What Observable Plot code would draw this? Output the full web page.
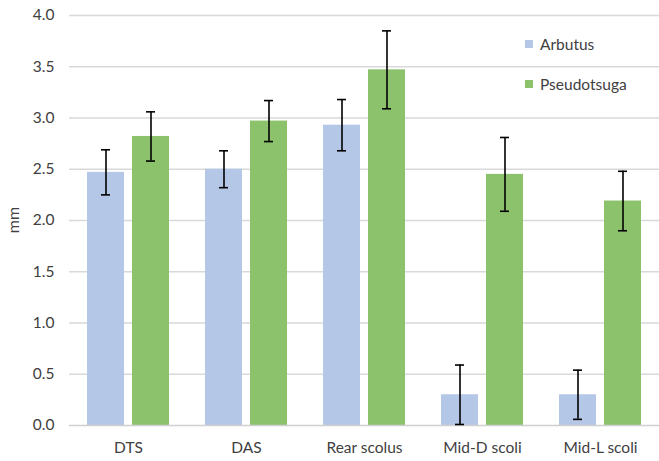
<!DOCTYPE html>
<html>
<head>
<meta charset="utf-8">
<script src="https://cdn.jsdelivr.net/npm/d3@7"></script>
<script src="https://cdn.jsdelivr.net/npm/@observablehq/plot@0.6"></script>
<style>
  html, body { margin: 0; padding: 0; background: #fff; }
  #wrap { position: relative; width: 659px; height: 461px; font-family: Lato, "Open Sans", sans-serif; }
  #legend { position: absolute; left: 525px; top: 35px; font-size: 15.5px; color: #404040; }
  #legend .item { display: flex; align-items: center; height: 18px; margin-bottom: 22px; white-space: nowrap; }
  #legend .sw { width: 8px; height: 8px; margin-right: 7px; }
  #ylabel { position: absolute; left: 12px; top: 220px; transform: translate(-50%, -50%) rotate(-90deg); font-size: 16px; color: #404040; }
</style>
</head>
<body>
<div id="wrap"><div id="legend"></div><div id="ylabel"></div></div>
<script>
const categories = ["DTS", "DAS", "Rear scolus", "Mid-D scoli", "Mid-L scoli"];
const series = ["Arbutus", "Pseudotsuga"];
const arbutusValues = [2.47, 2.50, 2.93, 0.30, 0.30];
const arbutusErrors = [0.22, 0.18, 0.25, 0.29, 0.24];
const pseudotsugaValues = [2.82, 2.97, 3.47, 2.45, 2.19];
const pseudotsugaErrors = [0.24, 0.20, 0.38, 0.36, 0.29];
const yTicks = [0, 0.5, 1, 1.5, 2, 2.5, 3, 3.5, 4];
const yLabel = "mm";
const colors = ["#B4C7E7", "#8DC26C"];

const rows = [];
categories.forEach((c, i) => {
  rows.push({category: c, series: series[0], value: arbutusValues[i], err: arbutusErrors[i]});
  rows.push({category: c, series: series[1], value: pseudotsugaValues[i], err: pseudotsugaErrors[i]});
});

const chart = Plot.plot({
  width: 659,
  height: 461,
  marginLeft: 69,
  marginRight: 0,
  marginTop: 15,
  marginBottom: 36,
  style: {fontFamily: "Lato, 'Open Sans', sans-serif", fontSize: "15.5px", color: "#404040", background: "white"},
  facet: {data: rows, x: "category"},
  fx: {domain: categories, padding: 0, label: null, tickSize: 0, tickPadding: 16},
  x: {domain: series, axis: null, paddingInner: 0.174, paddingOuter: 0.37},
  y: {domain: [0, 4], ticks: yTicks, tickFormat: ".1f", tickSize: 0, tickPadding: 15, label: null},
  color: {domain: series, range: colors},
  marks: [
    Plot.ruleY(yTicks.filter(d => d > 0), {stroke: "#d9d9d9", strokeWidth: 1.3}),
    Plot.barY(rows, {x: "series", y: "value", fill: "series"}),
    Plot.ruleY([0], {stroke: "#d0d0d0", strokeWidth: 1.5}),
    Plot.ruleX(rows, {x: "series", y1: d => d.value - d.err, y2: d => d.value + d.err, stroke: "#000", strokeWidth: 1.6}),
    Plot.tickY(rows, {x: "series", y: d => d.value - d.err, stroke: "#000", strokeWidth: 1.6, insetLeft: 14, insetRight: 14}),
    Plot.tickY(rows, {x: "series", y: d => d.value + d.err, stroke: "#000", strokeWidth: 1.6, insetLeft: 14, insetRight: 14})
  ]
});
const wrap = document.getElementById("wrap");
wrap.insertBefore(chart, wrap.firstChild);
document.getElementById("ylabel").textContent = yLabel;

const legend = document.getElementById("legend");
series.forEach((s, i) => {
  const item = document.createElement("div");
  item.className = "item";
  const sw = document.createElement("span");
  sw.className = "sw";
  sw.style.background = colors[i];
  const t = document.createElement("span");
  t.textContent = s;
  item.appendChild(sw);
  item.appendChild(t);
  legend.appendChild(item);
});
</script>
</body>
</html>
